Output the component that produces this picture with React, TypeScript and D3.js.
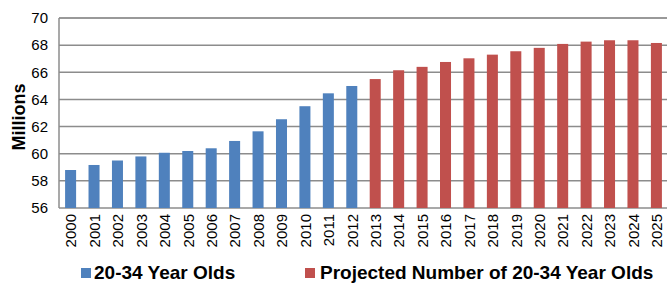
import React from "react";
import * as d3 from "d3";

const years = ["2000","2001","2002","2003","2004","2005","2006","2007","2008","2009","2010","2011","2012","2013","2014","2015","2016","2017","2018","2019","2020","2021","2022","2023","2024","2025"];
const actualValues = [58.8,59.17,59.5,59.8,60.07,60.2,60.4,60.94,61.65,62.54,63.5,64.45,64.99];
const projectedValues = [65.5,66.15,66.4,66.76,67.03,67.3,67.55,67.8,68.09,68.26,68.36,68.36,68.16];
const yTicks = [56,58,60,62,64,66,68,70];
const seriesNames = ["20-34 Year Olds", "Projected Number of 20-34 Year Olds"];
const colors = ["#4F81BD", "#C0504D"];

export default function App() {
  const W = 667, H = 283;
  const left = 59, right = 668, top = 18, bottom = 208;
  const x = d3.scaleBand<string>().domain(years).range([left, right]).paddingInner(0.53).paddingOuter(0.26);
  const y = d3.scaleLinear().domain([56, 70]).range([bottom, top]);
  const data = [
    ...actualValues.map((v, i) => ({ year: years[i], v, s: 0 })),
    ...projectedValues.map((v, i) => ({ year: years[i + actualValues.length], v, s: 1 })),
  ];
  const font = "Liberation Sans, Arial, sans-serif";
  return (
    <svg width={W} height={H} style={{ position: "absolute", left: 0, top: 0, background: "#fff" }} fontFamily={font}>
      {yTicks.map((t) => (
        <g key={t}>
          <line x1={left} x2={W} y1={y(t)} y2={y(t)} stroke={t === 70 ? "#777" : "#8c8c8c"} strokeWidth={1.5} />
          <text x={48} y={y(t)} dy="0.35em" textAnchor="end" fontSize={15} fill="#000">{t}</text>
        </g>
      ))}
      <line x1={left} x2={left} y1={top} y2={bottom} stroke="#8c8c8c" strokeWidth={1.5} />
      {data.map((d) => (
        <rect key={d.year} x={x(d.year)} width={x.bandwidth()} y={y(d.v)} height={y(56) - y(d.v)} fill={colors[d.s]} />
      ))}
      {years.map((yr) => (
        <text key={yr} transform={`translate(${(x(yr) as number) + x.bandwidth() / 2 + 0.5},214) rotate(-90)`} textAnchor="end" dy="0.35em" fontSize={15} fill="#000">{yr}</text>
      ))}
      <text transform={`translate(19,117) rotate(-90)`} textAnchor="middle" dy="0.35em" fontSize={18} fontWeight="bold" fill="#000">Millions</text>
      <rect x={81} y={268} width={10} height={10} fill={colors[0]} />
      <text x={94} y={279} fontSize={19} fontWeight="bold" fill="#000">{seriesNames[0]}</text>
      <rect x={305} y={268} width={10} height={10} fill={colors[1]} />
      <text x={320} y={279} fontSize={19} fontWeight="bold" fill="#000">{seriesNames[1]}</text>
    </svg>
  );
}
